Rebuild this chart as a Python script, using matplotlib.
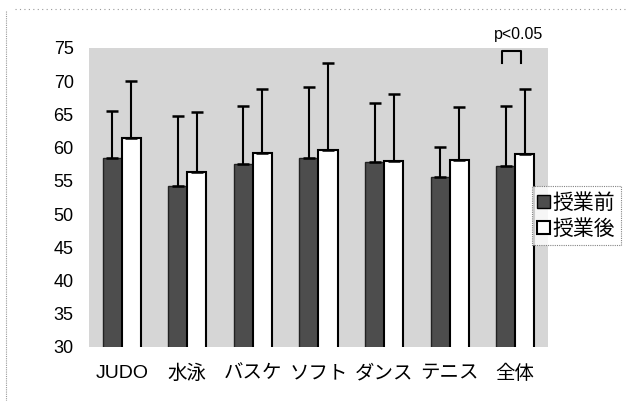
import numpy as np
import matplotlib.pyplot as plt
from matplotlib.lines import Line2D

plt.rcParams['font.family'] = ['Liberation Sans', 'Noto Sans CJK JP']

categories = ["JUDO", "水泳", "バスケ", "ソフト", "ダンス", "テニス", "全体"]
before_mean = [58.4, 54.2, 57.5, 58.4, 57.8, 55.6, 57.3]
before_sd = [7.1, 10.6, 8.7, 10.8, 8.9, 4.5, 8.9]
after_mean = [61.5, 56.3, 59.2, 59.6, 58.0, 58.2, 59.0]
after_sd = [8.5, 9.0, 9.7, 13.2, 10.1, 7.9, 9.9]
yticks = [30, 35, 40, 45, 50, 55, 60, 65, 70, 75]

fig = plt.figure(figsize=(6.28, 4.01), dpi=100)
ax = fig.add_axes([0.1417, 0.1347, 0.7309, 0.7456])
ax.set_facecolor("#d6d6d6")

x = np.arange(len(categories))
w = 0.29
ax.bar(x - w / 2, before_mean, w, color="#4d4d4d", edgecolor="#222222",
       linewidth=1.0, zorder=2)
ax.bar(x + w / 2, after_mean, w, color="white", edgecolor="black",
       linewidth=1.5, zorder=2)

# upper-only error bars (SD)
ax.errorbar(x - w / 2, before_mean, yerr=[np.zeros(len(x)), before_sd], fmt="none",
            ecolor="black", elinewidth=1.5, capsize=4, capthick=1.8, zorder=3)
ax.errorbar(x + w / 2, after_mean, yerr=[np.zeros(len(x)), after_sd], fmt="none",
            ecolor="black", elinewidth=1.5, capsize=4, capthick=1.8, zorder=3)

ax.set_ylim(30, 75)
ax.set_xlim(-0.5, len(categories) - 0.5)
ax.set_yticks(yticks)
ax.set_xticks(x)
ax.set_xticklabels(categories, fontsize=14)
ax.tick_params(axis="y", labelsize=13, length=0, pad=11)
ax.tick_params(axis="x", length=0, pad=13)
for s in ax.spines.values():
    s.set_visible(False)

# significance bracket over 全体
i = len(categories) - 1
bx0, bx1 = i - w / 2 - 0.05, i + w / 2 - 0.05
ax.plot([bx0, bx0, bx1, bx1], [72.7, 74.5, 74.5, 72.7], color="black", lw=1.5,
        clip_on=False, zorder=4)
ax.text((bx0 + bx1) / 2 + 0.1, 75.9, "p<0.05", ha="center", va="bottom",
        fontsize=11.5)

handles = [
    plt.Rectangle((0, 0), 1, 1, facecolor="#4d4d4d", edgecolor="black"),
    plt.Rectangle((0, 0), 1, 1, facecolor="white", edgecolor="black", linewidth=1.5),
]
leg = fig.legend(handles, ["授業前", "授業後"], loc="upper left",
                 bbox_to_anchor=(0.847, 0.535), frameon=True,
                 prop={"family": ["Noto Sans CJK JP"], "size": 15},
                 fancybox=False, handlelength=0.6, handleheight=0.6,
                 handletextpad=0.15, borderpad=0.25, labelspacing=0.2,
                 borderaxespad=0)
leg.get_frame().set_edgecolor("#666666")
leg.get_frame().set_linestyle((0, (1, 1)))
leg.get_frame().set_linewidth(0.8)

# dotted outer chart frame
fig.add_artist(Line2D([0.024, 1.0], [0.978, 0.978], transform=fig.transFigure,
                      color="#999999", lw=0.8, ls=(0, (1, 3))))
fig.add_artist(Line2D([0.01, 0.01], [0.0, 0.975], transform=fig.transFigure,
                      color="#999999", lw=0.8, ls=(0, (1, 1))))

fig.savefig("out.png", dpi=100)
